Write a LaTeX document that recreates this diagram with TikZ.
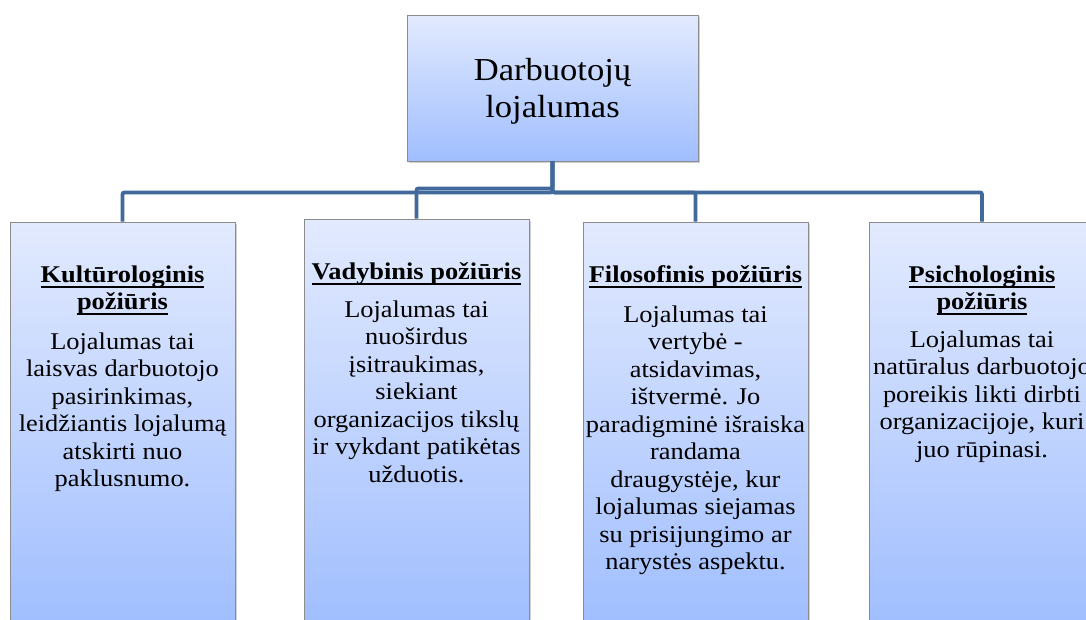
\documentclass[tikz,border=0pt]{standalone}
\usepackage{fontspec}
\setmainfont{Liberation Serif}
\usepackage{graphicx}
\usetikzlibrary{shadows}
\definecolor{conn}{RGB}{65,105,155}
\definecolor{boxtop}{RGB}{226,234,254}
\definecolor{boxbot}{RGB}{160,190,254}
\definecolor{boxline}{RGB}{140,140,140}
\newcommand\ulh[1]{\setbox0\hbox{#1}\rlap{\vrule height -3.5pt depth 5.5pt width \wd0}\box0}
\newcommand\txt[2][1.1]{\scalebox{#1}[1]{\begin{tabular}[t]{@{}c@{}}#2\end{tabular}}}
\begin{document}
\begin{tikzpicture}[x=1pt,y=-1pt,
  bx/.style={draw=boxline, line width=0.8pt, top color=boxtop, bottom color=boxbot,
    drop shadow={opacity=0.3, shadow xshift=1.5pt, shadow yshift=-1.5pt, fill=black!60},
    inner sep=0, minimum width=225pt},
  body/.style={anchor=base, inner sep=0, font=\fontsize{24}{27.5}\selectfont},
  head/.style={anchor=base, inner sep=0, font=\fontsize{24}{27}\selectfont\bfseries},
  link/.style={draw=conn, line width=3.8pt, rounded corners=2pt}]
\useasboundingbox (0,0) rectangle (1086,619);
\clip (0,0) rectangle (1086,619);
\fill[white] (0,0) rectangle (1086,619);
% boxes
\node[bx, minimum width=291pt, minimum height=146pt] (top) at (552.5,88) {};
\node[bx, minimum height=403pt] (c1) at (122.5,423.5) {};
\node[bx, minimum height=406pt] (c2) at (416.5,422) {};
\node[bx, minimum height=403pt] (c3) at (695.5,423.5) {};
\node[bx, minimum width=226pt, minimum height=403pt] (c4) at (982,423.5) {};
% connectors
\draw[link] (top.south) -- ++(0,31) -| (c1.north);
\draw[link] (top.south) -- ++(0,27) -| (c2.north);
\draw[link] (top.south) -- ++(0,31) -| (c3.north);
\draw[link] (top.south) -- ++(0,31) -| (c4.north);
% title
\node[anchor=base, inner sep=0, font=\fontsize{32}{37}\selectfont] (ttl) at (552.5,80)
  {\txt[1.08]{Darbuotojų\\lojalumas}};
% box 1
\node[head] (h1) at (122.5,282) {\txt{\ulh{Kultūrologinis}\\\ulh{požiūris}}};
\node[body] (b1) at (122.5,349) {\txt{Lojalumas tai\\laisvas darbuotojo\\pasirinkimas,\\leidžiantis lojalumą\\atskirti nuo\\paklusnumo.}};
% box 2
\node[head] (h2) at (416.5,279) {\txt{\ulh{Vadybinis požiūris}}};
\node[body] (b2) at (416.5,317) {\txt{Lojalumas tai\\nuoširdus\\įsitraukimas,\\siekiant\\organizacijos tikslų\\ir vykdant patikėtas\\užduotis.}};
% box 3
\node[head] (h3) at (695.5,282) {\txt{\ulh{Filosofinis požiūris}}};
\node[body] (b3) at (695.5,322) {\txt{Lojalumas tai\\vertybė -\\atsidavimas,\\ištvermė. Jo\\paradigminė išraiska\\randama\\draugystėje, kur\\lojalumas siejamas\\su prisijungimo ar\\narystės aspektu.}};
% box 4
\node[head] (h4) at (982,282) {\txt{\ulh{Psichologinis}\\\ulh{požiūris}}};
\node[body] (b4) at (982,347) {\txt{Lojalumas tai\\natūralus darbuotojo\\poreikis likti dirbti\\organizacijoje, kuri\\juo rūpinasi.}};
\end{tikzpicture}
\end{document}
